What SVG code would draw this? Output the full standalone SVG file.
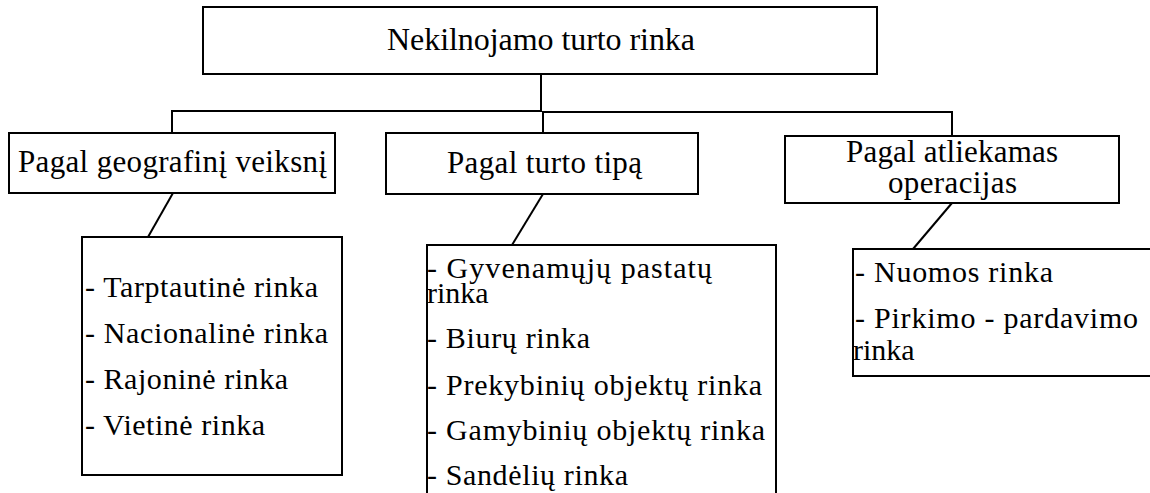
<svg xmlns="http://www.w3.org/2000/svg" width="1150" height="493" viewBox="0 0 1150 493">
  <style>
    .box { fill: #fff; stroke: #000; stroke-width: 2; }
    .conn { fill: none; stroke: #000; stroke-width: 2; }
    .t32 { font-size: 32px; }
    .t31 { font-size: 31px; }
    .t30 { font-size: 30px; }
  </style>
  <rect width="1150" height="493" fill="#fff"/>

  <!-- tree connectors -->
  <g id="connectors">
    <path class="conn" d="M541,74 V111 H172 V133"/>
    <path class="conn" d="M543,111 V133"/>
    <path class="conn" d="M543,112 H952 V136"/>
    <path class="conn" d="M173,193 L148,237"/>
    <path class="conn" d="M543,194 L512,245"/>
    <path class="conn" d="M952,203 L913,249"/>
  </g>

  <g font-family="'Liberation Serif', 'DejaVu Serif', serif" fill="#000">
    <g id="root">
      <rect class="box" x="203" y="7" width="674" height="67"/>
      <text class="t32" x="387" y="50" textLength="308" lengthAdjust="spacing">Nekilnojamo turto rinka</text>
    </g>

    <g id="geo">
      <rect class="box" x="9" y="133" width="326" height="60"/>
      <text class="t31" x="18" y="172" textLength="309" lengthAdjust="spacing">Pagal geografinį veiksnį</text>
    </g>

    <g id="type">
      <rect class="box" x="386" y="133" width="312" height="61"/>
      <text class="t31" x="447" y="173" textLength="195" lengthAdjust="spacing">Pagal turto tipą</text>
    </g>

    <g id="operations">
      <rect class="box" x="785" y="136" width="334" height="67"/>
      <text class="t31"><tspan x="846" y="162" textLength="212" lengthAdjust="spacing">Pagal atliekamas</tspan><tspan x="888" y="193" textLength="129" lengthAdjust="spacing">operacijas</tspan></text>
    </g>

    <g id="geo-list">
      <rect class="box" x="82" y="237" width="260" height="238"/>
      <text class="t30" x="85" y="297" textLength="233" lengthAdjust="spacing">- Tarptautinė rinka</text>
      <text class="t30" x="85" y="343" textLength="243" lengthAdjust="spacing">- Nacionalinė rinka</text>
      <text class="t30" x="85" y="389" textLength="203" lengthAdjust="spacing">- Rajoninė rinka</text>
      <text class="t30" x="85" y="435" textLength="180" lengthAdjust="spacing">- Vietinė rinka</text>
    </g>

    <g id="type-list">
      <rect class="box" x="427" y="245" width="349" height="252"/>
      <text class="t30"><tspan x="427" y="278" textLength="285" lengthAdjust="spacing">- Gyvenamųjų pastatų</tspan><tspan x="427" y="303">rinka</tspan></text>
      <text class="t30" x="427" y="348" textLength="163" lengthAdjust="spacing">- Biurų rinka</text>
      <text class="t30" x="427" y="395" textLength="335" lengthAdjust="spacing">- Prekybinių objektų rinka</text>
      <text class="t30" x="427" y="440" textLength="338" lengthAdjust="spacing">- Gamybinių objektų rinka</text>
      <text class="t30" x="427" y="485" textLength="201" lengthAdjust="spacing">- Sandėlių rinka</text>
    </g>

    <g id="operations-list">
      <rect class="box" x="853" y="249" width="300" height="127"/>
      <text class="t30" x="855" y="282" textLength="198" lengthAdjust="spacing">- Nuomos rinka</text>
      <text class="t30"><tspan x="855" y="328" textLength="283" lengthAdjust="spacing">- Pirkimo - pardavimo</tspan><tspan x="853" y="360">rinka</tspan></text>
    </g>
  </g>
</svg>
